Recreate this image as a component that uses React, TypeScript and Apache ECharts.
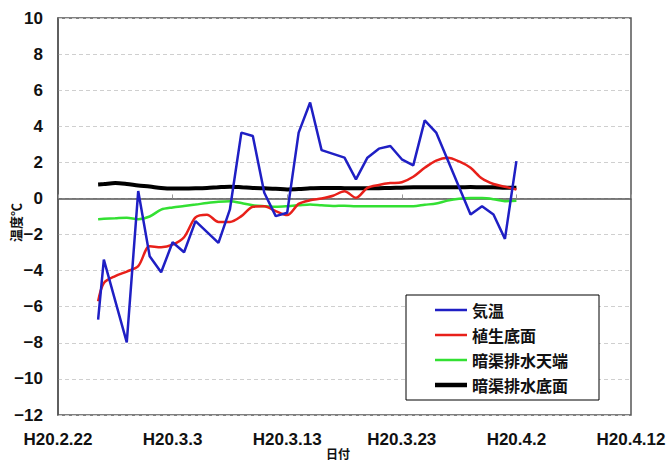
import React, { useEffect, useRef } from "react";
import * as echarts from "echarts";

const TICK_LABELS = ["H20.2.22", "H20.3.3", "H20.3.13", "H20.3.23", "H20.4.2", "H20.4.12"];
const X_NAME = "日付";
const Y_NAME = "温度℃";
const SERIES_NAMES = ["気温", "植生底面", "暗渠排水天端", "暗渠排水底面"];

// day offsets from H20.2.22
const AIR_DAYS = [3.5, 4, 6, 7, 8, 9, 10, 11, 12, 14, 15, 16, 17, 18, 19, 20, 21, 22, 23, 25, 26, 27, 28, 29, 30, 31, 32, 33, 36, 37, 38, 39, 40];
const AIR_TEMP = [-6.72, -3.39, -7.98, 0.41, -3.2, -4.09, -2.43, -2.98, -1.26, -2.46, -0.61, 3.65, 3.46, 0.32, -0.98, -0.79, 3.65, 5.32, 2.68, 2.26, 1.06, 2.26, 2.76, 2.91, 2.17, 1.83, 4.33, 3.65, -0.89, -0.43, -0.89, -2.24, 2.07];

const SOIL_DAYS = [3.5, 4, 5, 6, 7, 8, 9, 10, 11, 12, 13, 14, 15, 16, 17, 18, 19, 20, 21, 22, 23, 24, 25, 26, 27, 28, 29, 30, 31, 32, 33, 34, 35, 36, 37, 38, 39, 40];
const VEG_BOTTOM = [-5.7, -4.69, -4.3, -4.05, -3.75, -2.65, -2.7, -2.56, -2.15, -1.05, -0.9, -1.3, -1.3, -0.98, -0.46, -0.43, -0.7, -0.92, -0.3, -0.1, 0.0, 0.15, 0.4, 0.04, 0.59, 0.75, 0.85, 0.9, 1.2, 1.7, 2.1, 2.25, 2.05, 1.7, 1.1, 0.8, 0.65, 0.5];
const DRAIN_TOP = [-1.15, -1.13, -1.1, -1.07, -1.15, -1.0, -0.62, -0.5, -0.42, -0.34, -0.25, -0.18, -0.15, -0.25, -0.38, -0.43, -0.46, -0.43, -0.38, -0.33, -0.38, -0.42, -0.4, -0.43, -0.43, -0.43, -0.43, -0.43, -0.43, -0.35, -0.28, -0.12, -0.02, 0.02, 0.02, -0.04, -0.15, -0.13];
const DRAIN_BOTTOM = [0.78, 0.8, 0.85, 0.8, 0.72, 0.66, 0.58, 0.55, 0.55, 0.56, 0.58, 0.62, 0.65, 0.62, 0.58, 0.56, 0.54, 0.5, 0.52, 0.56, 0.58, 0.58, 0.57, 0.56, 0.56, 0.57, 0.58, 0.6, 0.62, 0.62, 0.62, 0.62, 0.62, 0.63, 0.62, 0.62, 0.6, 0.6];

const COLORS = ["#1f1fc4", "#e8201a", "#33e033", "#000000"];

const pairs = (xs: number[], ys: number[]) => xs.map((x, i) => [x, ys[i]]);

export default function App() {
  const ref = useRef<HTMLDivElement>(null);
  useEffect(() => {
    document.body.style.margin = "0";
    const chart = echarts.init(ref.current!, undefined, { renderer: "svg" });
    const labelFont = "'Liberation Sans', Arial, sans-serif";
    const cjkFont = "'Noto Sans CJK JP', sans-serif";
    chart.setOption({
      animation: false,
      backgroundColor: "#ffffff",
      grid: {
        left: 58,
        top: 18,
        right: 37,
        bottom: 49,
        containLabel: false,
        outerBoundsMode: "none",
        show: true,
        borderColor: "#555",
        borderWidth: 1.5,
        backgroundColor: "transparent",
      },
      legend: {
        orient: "vertical",
        left: 406,
        top: 295,
        width: 192,
        padding: [7, 31, 7, 29],
        itemGap: 9,
        itemWidth: 32,
        itemHeight: 5,
        itemTextGap: 2,
        borderColor: "#000",
        borderWidth: 1,
        backgroundColor: "#fff",
        textStyle: { fontSize: 16, color: "#111", fontFamily: cjkFont, fontWeight: "bold" },
        data: [
          { name: SERIES_NAMES[0], icon: "path://M0,0H32V2.5H0Z" },
          { name: SERIES_NAMES[1], icon: "path://M0,0H32V2.5H0Z" },
          { name: SERIES_NAMES[2], icon: "path://M0,0H32V2.5H0Z" },
          { name: SERIES_NAMES[3], icon: "path://M0,0H32V4.5H0Z" },
        ],
      },
      xAxis: {
        type: "value",
        min: 0,
        max: 50,
        interval: 10,
        name: X_NAME,
        nameLocation: "middle",
        nameGap: 32,
        nameMoveOverlap: false,
        nameTextStyle: { fontSize: 12, fontWeight: "bold", color: "#111", fontFamily: cjkFont, padding: [0, 13, 0, 0] },
        axisLine: { show: true, lineStyle: { color: "#555", width: 1.5 } },
        axisTick: { show: true, inside: true, length: 4, lineStyle: { color: "#999" } },
        axisLabel: {
          margin: 16,
          fontSize: 17,
          fontWeight: "bold",
          color: "#111",
          fontFamily: labelFont,
          formatter: (v: number) => TICK_LABELS[Math.round(v / 10)] ?? "",
        },
        splitLine: { show: false },
      },
      yAxis: {
        type: "value",
        min: -12,
        max: 10,
        interval: 2,
        name: Y_NAME,
        nameLocation: "middle",
        nameRotate: 90,
        nameGap: 36,
        nameMoveOverlap: false,
        nameTextStyle: { fontSize: 13, fontWeight: "bold", color: "#111", fontFamily: cjkFont, padding: [0, 12, 0, 0] },
        axisLine: { show: true, lineStyle: { color: "#555", width: 1.5 } },
        axisTick: { show: false },
        axisLabel: {
          margin: 15,
          fontSize: 17,
          fontWeight: "bold",
          color: "#111",
          fontFamily: labelFont,
          formatter: (v: number) => (v < 0 ? "\u2212" + Math.abs(v) : String(v)),
        },
        splitLine: { show: true, lineStyle: { color: "#cfcfcf", type: [4, 3], width: 1 } },
      },
      series: [
        {
          name: SERIES_NAMES[0],
          type: "line",
          data: pairs(AIR_DAYS, AIR_TEMP),
          showSymbol: false,
          symbol: "none",
          lineStyle: { color: COLORS[0], width: 2.5 },
          itemStyle: { color: COLORS[0] },
          z: 4,
        },
        {
          name: SERIES_NAMES[1],
          type: "line",
          data: pairs(SOIL_DAYS, VEG_BOTTOM),
          showSymbol: false,
          symbol: "none",
          smooth: 0.3,
          lineStyle: { color: COLORS[1], width: 2.5 },
          itemStyle: { color: COLORS[1] },
          z: 3,
        },
        {
          name: SERIES_NAMES[2],
          type: "line",
          data: pairs(SOIL_DAYS, DRAIN_TOP),
          showSymbol: false,
          symbol: "none",
          smooth: 0.3,
          lineStyle: { color: COLORS[2], width: 2.5 },
          itemStyle: { color: COLORS[2] },
          z: 2,
        },
        {
          name: SERIES_NAMES[3],
          type: "line",
          data: pairs(SOIL_DAYS, DRAIN_BOTTOM),
          showSymbol: false,
          symbol: "none",
          smooth: 0.3,
          lineStyle: { color: COLORS[3], width: 4 },
          itemStyle: { color: COLORS[3] },
          z: 2,
        },
      ],
    });
    return () => chart.dispose();
  }, []);
  return (
    <div
      ref={ref}
      style={{ width: 668, height: 464, position: "absolute", left: 0, top: 0, background: "#fff" }}
    />
  );
}
